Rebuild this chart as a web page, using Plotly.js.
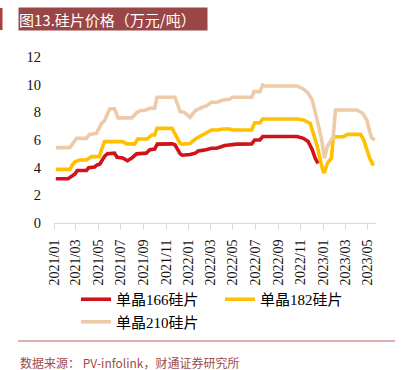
<!DOCTYPE html>
<html>
<head>
<meta charset="utf-8">
<script src="https://cdn.plot.ly/plotly-3.0.1.min.js"></script>
<style>html,body{margin:0;padding:0;background:#fff;}#chart{width:412px;height:370px;}</style>
</head>
<body>
<div id="chart"></div>
<script>
// ---- data (万元/吨) ----
const names = ["单晶166硅片", "单晶182硅片", "单晶210硅片"];

const dates166 = ["2021-01-06","2021-02-08","2021-02-27","2021-03-05","2021-03-30","2021-04-05","2021-04-21","2021-04-28","2021-05-05","2021-05-19","2021-05-26","2021-06-14","2021-06-21","2021-07-06","2021-07-19","2021-07-31","2021-08-13","2021-09-08","2021-09-18","2021-10-01","2021-10-08","2021-11-17","2021-11-25","2021-12-09","2021-12-15","2022-01-05","2022-01-19","2022-01-27","2022-02-17","2022-03-04","2022-03-18","2022-04-09","2022-05-11","2022-06-21","2022-06-29","2022-07-13","2022-07-21","2022-10-22","2022-11-08","2022-11-21","2022-12-02","2022-12-10","2022-12-18"];
const vals166 = [3.2,3.2,3.55,3.8,3.8,4.0,4.05,4.2,4.25,4.85,5.0,5.05,4.75,4.7,4.5,4.7,5.0,5.05,5.3,5.35,5.7,5.72,5.65,5.0,4.9,4.95,5.05,5.2,5.3,5.4,5.4,5.6,5.7,5.72,6.0,6.0,6.25,6.25,6.12,5.9,5.3,4.7,4.3];

const dates182 = ["2021-01-06","2021-02-13","2021-02-20","2021-02-27","2021-03-11","2021-03-30","2021-04-13","2021-05-04","2021-05-10","2021-05-18","2021-07-06","2021-07-17","2021-08-08","2021-08-16","2021-09-10","2021-09-23","2021-10-01","2021-10-07","2021-11-17","2021-12-09","2021-12-14","2022-01-05","2022-01-19","2022-02-10","2022-02-17","2022-03-04","2022-03-20","2022-04-04","2022-04-22","2022-04-30","2022-06-21","2022-06-29","2022-07-13","2022-07-21","2022-10-22","2022-11-08","2022-11-27","2022-12-05","2022-12-16","2022-12-24","2023-01-01","2023-01-05","2023-01-12","2023-01-23","2023-01-28","2023-02-03","2023-02-25","2023-03-08","2023-04-12","2023-04-20","2023-04-29","2023-05-07","2023-05-17"];
const vals182 = [3.88,3.88,4.2,4.43,4.55,4.55,4.8,4.8,5.3,5.88,5.88,5.72,5.72,6.07,6.07,6.36,6.36,6.84,6.84,5.75,5.7,5.75,6.07,6.36,6.45,6.72,6.72,6.8,6.8,6.72,6.72,7.25,7.25,7.52,7.52,7.45,7.2,6.48,5.52,4.55,3.71,3.71,4.32,4.68,6.12,6.24,6.24,6.41,6.41,6.05,5.28,4.68,4.15];

const dates210 = ["2021-01-06","2021-02-13","2021-02-24","2021-03-03","2021-03-30","2021-04-07","2021-04-26","2021-05-04","2021-05-10","2021-05-18","2021-06-01","2021-06-14","2021-06-24","2021-07-31","2021-08-13","2021-08-22","2021-09-05","2021-09-18","2021-10-01","2021-10-07","2021-11-25","2021-12-09","2021-12-20","2022-01-05","2022-01-19","2022-02-10","2022-02-17","2022-03-04","2022-03-20","2022-04-04","2022-04-22","2022-04-30","2022-06-21","2022-06-27","2022-07-13","2022-07-21","2022-07-27","2022-10-22","2022-11-08","2022-11-21","2022-12-02","2022-12-10","2022-12-18","2022-12-27","2023-01-04","2023-01-12","2023-01-20","2023-01-28","2023-02-03","2023-04-02","2023-04-18","2023-04-29","2023-05-07","2023-05-13","2023-05-21"];
const vals210 = [5.45,5.45,5.85,6.12,6.12,6.4,6.48,6.9,7.2,7.4,8.25,8.25,7.6,7.6,7.97,8.12,8.15,8.29,8.29,9.09,9.09,8.05,8.0,7.64,8.12,8.41,8.45,8.73,8.73,8.89,8.95,9.09,9.09,9.5,9.5,9.98,9.9,9.9,9.69,9.38,8.89,8.05,7.09,6.12,4.68,5.52,5.88,6.24,8.17,8.17,7.93,7.45,6.6,6.12,6.0];

const colors = ["#D0121B", "#FFC000", "#EDCBA8"];
const titleText = "图13.硅片价格（万元/吨）";
const sourceText = "数据来源： PV-infolink，财通证券研究所";

// ---- layout geometry (pixels) ----
const W = 412, H = 370;
const M = {l: 54, r: 36, t: 57, b: 147};
const PW = W - M.l - M.r, PH = H - M.t - M.b;
const px = x => (x - M.l) / PW;
const py = y => (H - M.b - y) / PH;

const serif = 'Liberation Serif, "Noto Sans CJK SC", serif';
const cjk = '"Noto Sans CJK SC", Liberation Serif, sans-serif';

const series = [[dates166, vals166], [dates182, vals182], [dates210, vals210]];
const traces = series.map((s, i) => ({
  type: "scatter", mode: "lines", name: names[i],
  x: s[0], y: s[1],
  line: {color: colors[i], width: 3.6},
  hoverinfo: "skip"
}));

const layout = {
  width: W, height: H,
  margin: M,
  paper_bgcolor: "#fff", plot_bgcolor: "#fff",
  showlegend: true,
  legend: {
    orientation: "h", x: px(76), xanchor: "left", y: py(283), yanchor: "top",
    font: {family: serif, size: 15, color: "#000"},
    entrywidth: 99, entrywidthmode: "pixels",
    tracegroupgap: 0, itemwidth: 30, bgcolor: "rgba(0,0,0,0)"
  },
  xaxis: {
    type: "date", range: ["2021-01-01", "2023-05-24"],
    tick0: "2021-01-01", dtick: "M2", tickformat: "%Y/%m",
    tickangle: -90, ticks: "outside", ticklen: 6, tickcolor: "#D9D9D9",
    showline: true, linecolor: "#D9D9D9", linewidth: 1,
    showgrid: false, zeroline: false, automargin: false,
    tickfont: {family: serif, size: 14, color: "#111"},
    ticklabelstandoff: 4
  },
  yaxis: {
    range: [0, 12], dtick: 2, tick0: 0,
    showgrid: false, zeroline: false, showline: false, ticks: "",
    automargin: false,
    tickfont: {family: serif, size: 14.5, color: "#111"},
    ticklabelstandoff: 12
  },
  shapes: [
    {type: "rect", xref: "paper", yref: "paper", x0: px(0), x1: px(2.5), y0: py(30), y1: py(8),
     fillcolor: "#A8403F", line: {width: 0}},
    {type: "line", xref: "paper", yref: "paper", x0: px(18), x1: px(395), y0: py(341), y1: py(341),
     line: {color: "#DDB0AE", width: 2}}
  ],
  annotations: [
    {xref: "paper", yref: "paper", x: px(18), y: py(19), xanchor: "left", yanchor: "middle",
     text: titleText, showarrow: false, align: "left", width: 188, height: 22, borderpad: 0,
     bgcolor: "#9B4646", font: {family: cjk, size: 15, color: "#fff"}},
    {xref: "paper", yref: "paper", x: px(18), y: py(362), xanchor: "left", yanchor: "middle",
     text: sourceText, showarrow: false, align: "left",
     font: {family: cjk, size: 12, color: "#A04B48"}}
  ]
};

Plotly.newPlot("chart", traces, layout, {staticPlot: true, displayModeBar: false});
</script>
</body>
</html>
